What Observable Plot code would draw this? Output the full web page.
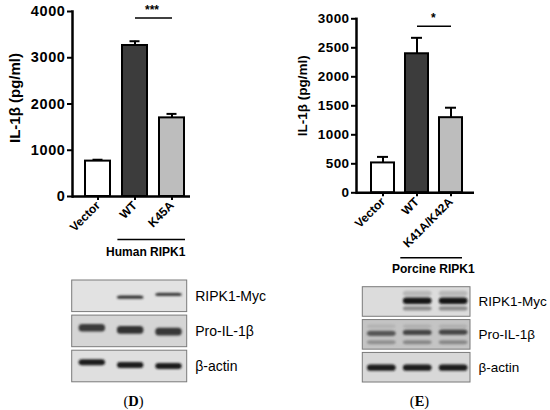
<!DOCTYPE html>
<html><head><meta charset="utf-8">
<script src="https://cdn.jsdelivr.net/npm/d3@7"></script>
<script src="https://cdn.jsdelivr.net/npm/@observablehq/plot@0.6"></script>
<style>
body{margin:0;background:#fff;}
#fig{position:relative;width:550px;height:410px;overflow:hidden;background:#fff;}
#fig > svg{position:absolute;top:0;}
</style></head><body><div id="fig"></div>
<script>
// ---------- data ----------
const groupsD = ["Vector", "WT", "K45A"];
const valuesD = [765, 3265, 1700];
const errorsD = [30, 92, 86];
const ticksD = [0, 1000, 2000, 3000, 4000];
const groupsE = ["Vector", "WT", "K41A/K42A"];
const valuesE = [515, 2397, 1295];
const errorsE = [104, 275, 172];
const ticksE = [0, 500, 1000, 1500, 2000, 2500, 3000];
const yTitle = "IL-1β (pg/ml)";
const groupLabelD = "Human RIPK1";
const groupLabelE = "Porcine RIPK1";
const sigD = {from: "WT", to: "K45A", label: "***"};
const sigE = {from: "WT", to: "K41A/K42A", label: "*"};
const blotRows = ["RIPK1-Myc", "Pro-IL-1β", "β-actin"];
const blotDSignal = [[0, 0.85, 0.8], [0.8, 0.85, 0.82], [0.95, 0.97, 0.97]];
const blotESignal = [[0, 1, 1], [0.62, 0.72, 0.72], [0.97, 0.97, 0.97]];
const blotELower = [[0, 0.4, 0.4], [0.3, 0.35, 0.35], [0, 0, 0]];
const blotEUpper = [[0, 0.18, 0.18], [0.1, 0.12, 0.12], [0, 0, 0]];
const panelD = "D", panelE = "E";

// ---------- styles / layout ----------
const FONT = "'Liberation Sans', Arial, sans-serif";
const barFills = ["#ffffff", "#3c3c3c", "#bdbdbd"];
const layoutD = {left: 0, ml: 72, mr: 85, mt: 11, mb: 214, xRange: [85, 184], pad: 0.33, cap: 7.5,
  tickFont: 14.5, tickSpacing: 0.6, titleFont: 15, titleDx: -57, titleDy: -6, sigY: 3860, starDx: 17,
  lineY: -930, lineInsetL: -4.6, lineInsetR: -1, labelY: -1211, labelDx: 13.4};
const layoutE = {left: 275, ml: 81, mr: 76, mt: 18.3, mb: 217.7, xRange: [95, 188.3], pad: 0.31, cap: 6,
  tickFont: 13.5, tickSpacing: 0.4, titleFont: 13.5, titleDx: -54, titleDy: -10, sigY: 2870, starDx: 16.4,
  lineY: -1121, lineInsetL: -4.7, lineInsetR: 0, labelY: -1322, labelDx: 23.7};

function barChart(groups, values, errors, ticks, sig, groupLabel, L) {
  const rows = groups.map((g, i) => ({group: g, value: values[i], err: errors[i]}));
  const under = [{from: groups[1], to: groups[2], y: L.lineY, label: groupLabel}];
  const underText = [{to: groups[2], y: L.labelY, label: groupLabel}];
  const sigRow = [{...sig, y: L.sigY}];
  const svg = Plot.plot({
    width: 275, height: 410,
    marginLeft: L.ml, marginRight: L.mr, marginTop: L.mt, marginBottom: L.mb,
    style: {background: "transparent", fontFamily: FONT, overflow: "visible", color: "black"},
    x: {domain: groups, range: L.xRange, paddingInner: L.pad, paddingOuter: 0, label: null, axis: null},
    y: {domain: [0, ticks[ticks.length - 1]], label: null, axis: null},
    color: {domain: groups, range: barFills},
    marks: [
      Plot.ruleX(rows, {x: "group", y1: "value", y2: d => d.value + d.err, strokeWidth: 2, stroke: "black"}),
      Plot.tickY(rows, {x: "group", y: d => d.value + d.err, strokeWidth: 2, stroke: "black", insetLeft: L.cap, insetRight: L.cap}),
      Plot.barY(rows, {x: "group", y: "value", fill: "group", stroke: "black", strokeWidth: 2}),
      Plot.ruleY([0], {strokeWidth: 2.5, stroke: "black"}),
      Plot.frame({anchor: "left", strokeWidth: 2.5, stroke: "black"}),
      Plot.axisY({ticks, tickSize: 5, tickPadding: 2, tickFormat: d => String(d), fontSize: L.tickFont, fontWeight: "bold", strokeWidth: 2, label: null}),
      Plot.axisX({tickSize: 4, tickPadding: 3, tickRotate: -45, fontSize: 12, fontWeight: "bold", strokeWidth: 2, label: null}),
      Plot.text([yTitle], {frameAnchor: "left", textAnchor: "middle", rotate: -90, dx: L.titleDx, dy: L.titleDy, text: d => d, fontSize: L.titleFont, fontWeight: "bold"}),
      Plot.link(sigRow, {x1: "from", x2: "to", y1: "y", y2: "y", strokeWidth: 1.5, stroke: "black"}),
      Plot.text(sigRow, {x: "from", y: "y", text: "label", dx: L.starDx, dy: -8, fontSize: 12, fontWeight: "bold"}),
      Plot.ruleY(under, {y: "y", x1: "from", x2: "to", insetLeft: L.lineInsetL, insetRight: L.lineInsetR, strokeWidth: 1.5, stroke: "black"}),
      Plot.text(underText, {x: "to", y: "y", text: "label", textAnchor: "end", dx: L.labelDx, fontSize: 12, fontWeight: "bold"})
    ]
  });
  d3.select(svg).selectAll('g[aria-label="y-axis tick label"] text').style("letter-spacing", L.tickSpacing + "px");
  svg.style.left = L.left + "px";
  return svg;
}

const blotDStyle = {left: 0, xRange: [71.7, 186.7], yRange: [280, 385.3], rowH: 0.9,
  rowFill: ["#e2e2e2", "#d5d5d5", "#dfdfdf"], labelFont: 14, bandX: [0.18, 0.87], blur: 1.1,
  center: [[0.49, 0.49, 0.41], [0.36, 0.42, 0.47], [0.345, 0.42, 0.45]], thick: [0.09, 0.22, 0.17],
  panelX: 1.6, panelY: 3.45};
const blotEStyle = {left: 275, xRange: [87.3, 195], yRange: [286.7, 385.3], rowH: 0.9,
  rowFill: ["#dcdcdc", "#c4c4c4", "#d8d8d8"], labelFont: 13.5, bandX: [0.13, 0.93], blur: 1.1,
  center: [[0.43, 0.43, 0.43], [0.42, 0.39, 0.38], [0.465, 0.465, 0.465]], thick: [0.2, 0.16, 0.19],
  lowerCenter: [0.66, 0.69, 0], lowerThick: [0.13, 0.12, 0], upperCenter: [0.2, 0.2, 0], upperThick: [0.16, 0.1, 0],
  panelX: 1.58, panelY: 3.48};

function blot(signal, extraLayers, S, panel) {
  const bands = [];
  const ink = "#141414";
  const addLayer = (mat, centers, thick) => mat.forEach((row, r) => row.forEach((k, lane) => {
    if (k > 0) {
      const c = r + (Array.isArray(centers[r]) ? centers[r][lane] : centers[r]);
      bands.push({x1: lane + S.bandX[0], x2: lane + S.bandX[1], y1: c - thick[r] / 2, y2: c + thick[r] / 2,
        fill: d3.interpolateRgb(S.rowFill[r], ink)(k)});
    }
  }));
  extraLayers.forEach(([mat, centers, thick]) => addLayer(mat, centers, thick));
  addLayer(signal, S.center, S.thick);
  const svg = Plot.plot({
    width: 275, height: 410, margin: 0,
    style: {background: "transparent", fontFamily: FONT, overflow: "visible", color: "black"},
    x: {domain: [0, 3], range: S.xRange, axis: null},
    y: {domain: [0, 3], range: S.yRange, axis: null},
    color: {type: "identity"},
    marks: [
      Plot.rect(blotRows, {x1: 0, x2: 3, y1: (d, i) => i, y2: (d, i) => i + S.rowH, fill: (d, i) => S.rowFill[i], stroke: "#7a7a7a", strokeWidth: 1}),
      Plot.rect(bands, {x1: "x1", x2: "x2", y1: "y1", y2: "y2", fill: "fill", rx: 3.5, ariaLabel: () => "band"}),
      Plot.text(blotRows, {x: 3, y: (d, i) => i + S.rowH / 2, text: d => d, textAnchor: "start", dx: 8, fontSize: S.labelFont}),
      Plot.text([panel], {x: S.panelX, y: S.panelY, text: d => "(" + d + ")", fontSize: 14.5, fontFamily: "'Liberation Serif', 'Times New Roman', serif", ariaLabel: () => "panel"})
    ]
  });
  const id = "blur" + panel;
  d3.select(svg).append("defs").append("filter").attr("id", id).attr("x", "-30%").attr("y", "-150%").attr("width", "160%").attr("height", "400%")
    .append("feGaussianBlur").attr("stdDeviation", S.blur);
  d3.select(svg).selectAll('rect[aria-label="band"]').attr("filter", `url(#${id})`);
  d3.select(svg).selectAll('text[aria-label="panel"]').each(function () {
    const t = d3.select(this); const s = t.text(); t.text("");
    t.append("tspan").text("(");
    t.append("tspan").attr("font-weight", "bold").text(s.slice(1, -1));
    t.append("tspan").text(")");
  });
  svg.style.left = S.left + "px";
  return svg;
}

const fig = document.getElementById("fig");
fig.append(blot(blotDSignal, [], blotDStyle, panelD));
fig.append(blot(blotESignal, [[blotELower, blotEStyle.lowerCenter, blotEStyle.lowerThick], [blotEUpper, blotEStyle.upperCenter, blotEStyle.upperThick]], blotEStyle, panelE));
fig.append(barChart(groupsD, valuesD, errorsD, ticksD, sigD, groupLabelD, layoutD));
fig.append(barChart(groupsE, valuesE, errorsE, ticksE, sigE, groupLabelE, layoutE));
</script></body></html>
